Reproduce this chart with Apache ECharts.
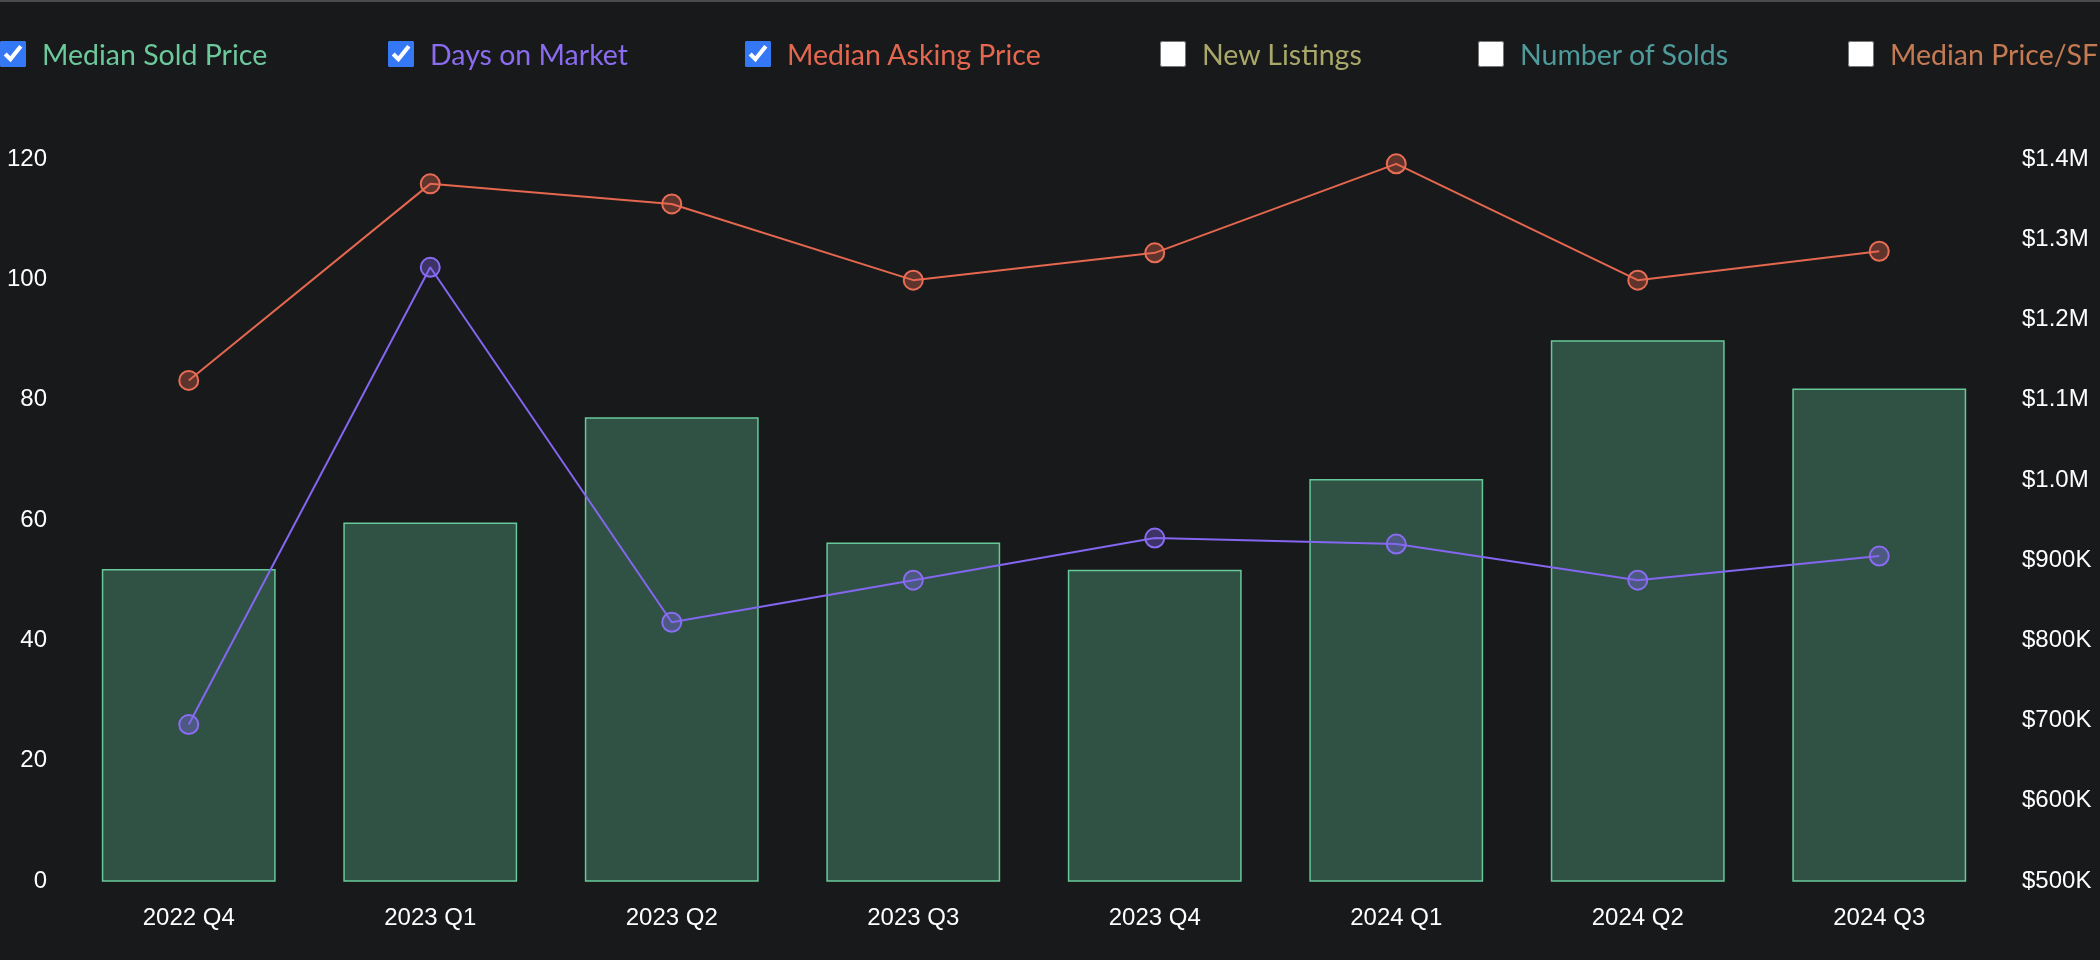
<!DOCTYPE html>
<html>
<head>
<meta charset="utf-8">
<script src="https://cdn.jsdelivr.net/npm/echarts@6/dist/echarts.min.js"></script>
<style>
  html, body { margin: 0; padding: 0; background: #18191b; }
  #wrap { position: relative; width: 2100px; height: 960px; background: #18191b; overflow: hidden; }
  #topline { position: absolute; left: 0; top: 0; width: 2100px; height: 2px; background: #4a4b4d; }
  #chart { position: absolute; left: 0; top: 0; width: 2100px; height: 960px; }
  .lg { position: absolute; top: 40px; height: 28px; display: flex; align-items: center; white-space: nowrap;
        font-family: Lato, "Noto Sans", sans-serif; font-size: 28.5px; z-index: 2; }
  .lg input { width: 26px; height: 26px; margin: 0 16px 0 0; accent-color: #3478f6; }
</style>
</head>
<body>
<div id="wrap">
  <div id="chart"></div>
  <div id="topline"></div>
  <div id="legend"></div>
</div>
<script>
const categories = ['2022 Q4', '2023 Q1', '2023 Q2', '2023 Q3', '2023 Q4', '2024 Q1', '2024 Q2', '2024 Q3'];
const medianSoldPrice = [889000, 947000, 1078000, 922000, 888000, 1001000, 1174000, 1114000];
const daysOnMarket = [26, 102, 43, 50, 57, 56, 50, 54];
const medianAskingPrice = [1124000, 1369000, 1344000, 1249000, 1283000, 1394000, 1249000, 1285000];
const leftTicks = { min: 0, max: 120, interval: 20 };
const rightTicks = { min: 500000, max: 1400000, interval: 100000 };
const legendItems = [
  { name: 'Median Sold Price', checked: true, color: '#6cc99c', left: 0 },
  { name: 'Days on Market', checked: true, color: '#8b6cf0', left: 388 },
  { name: 'Median Asking Price', checked: true, color: '#e4674f', left: 745 },
  { name: 'New Listings', checked: false, color: '#a9a86a', left: 1160 },
  { name: 'Number of Solds', checked: false, color: '#4f9a9a', left: 1478 },
  { name: 'Median Price/SF', checked: false, color: '#c47a52', left: 1848 }
];

const legendEl = document.getElementById('legend');
legendItems.forEach(it => {
  const d = document.createElement('label');
  d.className = 'lg';
  d.style.left = it.left + 'px';
  d.style.color = it.color;
  const cb = document.createElement('input');
  cb.type = 'checkbox';
  cb.checked = it.checked;
  d.appendChild(cb);
  d.appendChild(document.createTextNode(it.name));
  legendEl.appendChild(d);
});

function moneyFmt(v) {
  if (v >= 1000000) return '$' + (v / 1000000).toFixed(1) + 'M';
  return '$' + Math.round(v / 1000) + 'K';
}

const chart = echarts.init(document.getElementById('chart'), null, { renderer: 'canvas' });
const labelStyle = { color: '#ffffff', fontSize: 24, fontFamily: '"Liberation Sans", Arial, sans-serif' };
chart.setOption({
  backgroundColor: 'transparent',
  animation: false,
  grid: { left: 68, right: 100, top: 159, bottom: 79, containLabel: false },
  xAxis: {
    type: 'category',
    data: categories,
    axisLine: { show: false },
    axisTick: { show: false },
    axisLabel: Object.assign({ margin: 25 }, labelStyle),
    splitLine: { show: false }
  },
  yAxis: [
    {
      type: 'value',
      min: leftTicks.min, max: leftTicks.max, interval: leftTicks.interval,
      axisLine: { show: false }, axisTick: { show: false },
      splitLine: { show: false },
      axisLabel: Object.assign({ margin: 21 }, labelStyle)
    },
    {
      type: 'value',
      position: 'right',
      min: rightTicks.min, max: rightTicks.max, interval: rightTicks.interval,
      axisLine: { show: false }, axisTick: { show: false },
      splitLine: { show: false },
      axisLabel: Object.assign({ margin: 22, formatter: moneyFmt }, labelStyle)
    }
  ],
  series: [
    {
      name: 'Median Sold Price',
      type: 'bar',
      yAxisIndex: 1,
      data: medianSoldPrice,
      barWidth: '72%',
      itemStyle: { color: '#2f5245', borderColor: '#67c99a', borderWidth: 1.5 },
      z: 1
    },
    {
      name: 'Days on Market',
      type: 'line',
      yAxisIndex: 0,
      data: daysOnMarket,
      symbol: 'circle',
      symbolSize: 19,
      lineStyle: { color: '#8466f0', width: 2 },
      itemStyle: { color: 'rgba(132,102,240,0.35)', borderColor: '#8a6cf2', borderWidth: 2 },
      z: 3
    },
    {
      name: 'Median Asking Price',
      type: 'line',
      yAxisIndex: 1,
      data: medianAskingPrice,
      symbol: 'circle',
      symbolSize: 19,
      lineStyle: { color: '#e4674f', width: 2 },
      itemStyle: { color: 'rgba(228,103,79,0.35)', borderColor: '#e86d55', borderWidth: 2 },
      z: 3
    }
  ]
});
</script>
</body>
</html>
